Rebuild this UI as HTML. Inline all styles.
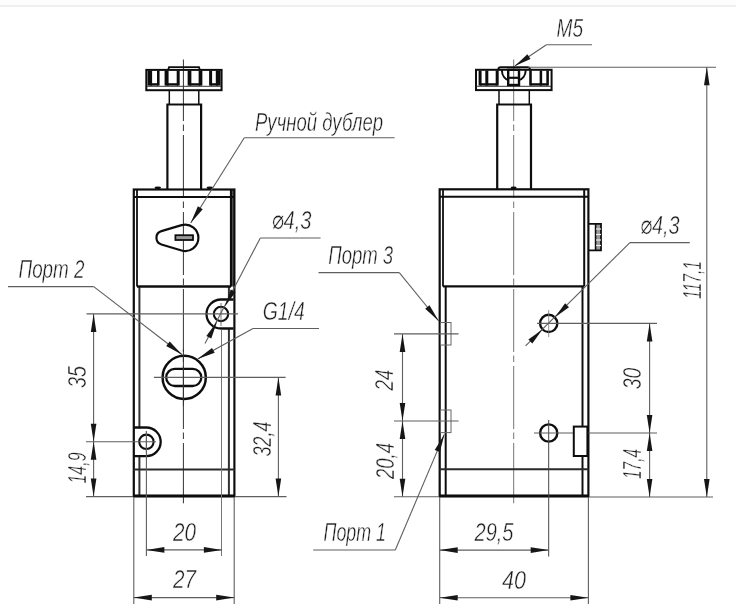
<!DOCTYPE html>
<html lang="ru"><head><meta charset="utf-8"><title>Чертёж</title>
<style>
html,body{margin:0;padding:0;background:#fff;}
svg{display:block;}
text{font-family:"Liberation Sans","DejaVu Sans",sans-serif;font-style:italic;fill:#1e1e1e;stroke:#fff;stroke-width:0.45px;paint-order:fill stroke;}
</style></head><body>
<svg width="736" height="604" viewBox="0 0 736 604">
<defs><filter id="b" x="0" y="0" width="100%" height="100%" filterUnits="userSpaceOnUse"><feGaussianBlur stdDeviation="0.7"/></filter></defs>
<rect width="736" height="604" fill="#fff"/>
<g filter="url(#b)">
<rect x="0" y="0" width="736" height="6" fill="#fdfdfd"/>
<rect x="0" y="5.5" width="736" height="1" fill="#e0e0e0"/>
<line x1="183.4" y1="59.5" x2="183.4" y2="503.3" stroke="#333" stroke-width="1.0" stroke-dasharray="63 3.5 6.5 4" stroke-dashoffset="1.5"/>
<rect x="146.3" y="69.9" width="75.3" height="20.3" fill="none" stroke="#111" stroke-width="2"/>
<polyline points="168.2,69.9 169.0,67.2 199.0,67.2 199.8,69.9" fill="none" stroke="#111" stroke-width="1.8" stroke-linejoin="miter"/>
<line x1="147.0" y1="86.3" x2="221.0" y2="86.3" stroke="#333" stroke-width="1.0" />
<line x1="149.8" y1="70.5" x2="149.8" y2="85.6" stroke="#111" stroke-width="4.6" />
<line x1="158.3" y1="70.5" x2="158.3" y2="85.6" stroke="#111" stroke-width="2.6" />
<line x1="166.6" y1="70.5" x2="166.6" y2="85.6" stroke="#111" stroke-width="4.0" />
<line x1="178.2" y1="70.5" x2="178.2" y2="85.6" stroke="#111" stroke-width="3.0" />
<line x1="189.5" y1="70.5" x2="189.5" y2="85.6" stroke="#111" stroke-width="3.7" />
<line x1="200.5" y1="70.5" x2="200.5" y2="85.6" stroke="#111" stroke-width="3.7" />
<line x1="210.6" y1="70.5" x2="210.6" y2="85.6" stroke="#111" stroke-width="3.0" />
<line x1="218.2" y1="70.5" x2="218.2" y2="85.6" stroke="#111" stroke-width="4.8" />
<line x1="149.8" y1="84.4" x2="158.3" y2="84.4" stroke="#111" stroke-width="2.4" />
<line x1="166.6" y1="84.4" x2="178.2" y2="84.4" stroke="#111" stroke-width="2.4" />
<line x1="189.5" y1="84.4" x2="200.5" y2="84.4" stroke="#111" stroke-width="2.4" />
<line x1="210.6" y1="84.4" x2="218.2" y2="84.4" stroke="#111" stroke-width="2.4" />
<line x1="169.3" y1="90.0" x2="169.3" y2="104.0" stroke="#111" stroke-width="1.5" />
<line x1="198.8" y1="90.0" x2="198.8" y2="104.0" stroke="#111" stroke-width="1.5" />
<polyline points="167.4,189.0 167.4,104.5 201.1,104.5 201.1,189.0" fill="none" stroke="#111" stroke-width="2.2" stroke-linejoin="miter"/>
<rect x="230.2" y="189.5" width="4.2" height="97.0" fill="#555"/>
<rect x="133.8" y="189.5" width="100.6" height="306.5" fill="none" stroke="#111" stroke-width="2.2"/>
<line x1="137.0" y1="189.5" x2="137.0" y2="286.5" stroke="#111" stroke-width="1.8" />
<line x1="231.0" y1="189.5" x2="231.0" y2="286.5" stroke="#111" stroke-width="2.2" />
<line x1="139.4" y1="286.5" x2="139.4" y2="496.0" stroke="#333" stroke-width="2.0" />
<line x1="228.9" y1="286.5" x2="228.9" y2="496.0" stroke="#333" stroke-width="2.0" />
<line x1="133.8" y1="197.0" x2="234.4" y2="197.0" stroke="#111" stroke-width="2" />
<line x1="137.0" y1="286.5" x2="231.0" y2="286.5" stroke="#111" stroke-width="2.4" />
<line x1="133.8" y1="469.6" x2="234.4" y2="469.6" stroke="#2a2a2a" stroke-width="2.0" />
<line x1="133.3" y1="496.0" x2="234.9" y2="496.0" stroke="#111" stroke-width="2.8" />
<ellipse cx="157.8" cy="187.8" rx="3.2" ry="1.3" fill="#111"/>
<ellipse cx="209.8" cy="187.8" rx="3.2" ry="1.3" fill="#111"/>
<path d="M161.4 231.1 L181.6 225.1 A13.2 13.2 0 1 1 181.6 250.5 L161.4 244.5 A7 7 0 0 1 161.4 231.1 Z" fill="none" stroke="#111" stroke-width="2.2" stroke-linejoin="round"/>
<rect x="175.4" y="235.2" width="17.6" height="4.8" fill="#999" stroke="#111" stroke-width="1.8"/>
<rect x="207" y="300" width="26" height="28" fill="#fff"/>
<path d="M233.5 299.5 L221 299.5 A14.5 14.5 0 0 0 221 328.5 L233.5 328.5" fill="none" stroke="#111" stroke-width="2.3" stroke-linejoin="round"/>
<circle cx="221.0" cy="314.0" r="7.2" fill="none" stroke="#111" stroke-width="2.1"/>
<line x1="221.5" y1="329.5" x2="221.5" y2="556.0" stroke="#777" stroke-width="1" />
<rect x="135" y="428.5" width="19" height="27" fill="#fff"/>
<path d="M133.8 427.5 L146.4 427.5 A14.3 14.3 0 0 1 146.4 456.1 L133.8 456.1" fill="none" stroke="#111" stroke-width="2.3" stroke-linejoin="round"/>
<circle cx="146.4" cy="441.8" r="7.2" fill="none" stroke="#111" stroke-width="2.1"/>
<circle cx="184.2" cy="377.4" r="21.6" fill="none" stroke="#111" stroke-width="2.5"/>
<path d="M174.8 368.8 H192.7 A8.6 8.6 0 0 1 192.7 386 H174.8 A8.6 8.6 0 0 1 174.8 368.8 Z" fill="none" stroke="#111" stroke-width="2.3" stroke-linejoin="round"/>
<line x1="86.5" y1="313.9" x2="238.0" y2="313.9" stroke="#5e5e5e" stroke-width="1.1" />
<line x1="86.0" y1="441.8" x2="156.0" y2="441.8" stroke="#5e5e5e" stroke-width="1.1" />
<line x1="86.0" y1="496.6" x2="133.0" y2="496.6" stroke="#5e5e5e" stroke-width="1.1" />
<line x1="235.0" y1="496.6" x2="286.5" y2="496.6" stroke="#5e5e5e" stroke-width="1.1" />
<line x1="154.0" y1="377.4" x2="285.6" y2="377.4" stroke="#5e5e5e" stroke-width="1.1" />
<line x1="183.4" y1="349.0" x2="183.4" y2="406.0" stroke="#333" stroke-width="1.0" />
<line x1="221.0" y1="303.0" x2="221.0" y2="326.0" stroke="#555" stroke-width="0.8" />
<line x1="146.4" y1="431.0" x2="146.4" y2="453.0" stroke="#555" stroke-width="0.8" />
<line x1="93.6" y1="313.9" x2="93.6" y2="496.6" stroke="#5e5e5e" stroke-width="1.1" />
<polygon points="93.6,313.9 96.4,331.9 90.8,331.9" fill="#151515"/>
<polygon points="93.6,441.8 90.8,423.8 96.4,423.8" fill="#151515"/>
<polygon points="93.6,441.8 96.4,459.8 90.8,459.8" fill="#151515"/>
<polygon points="93.6,496.6 90.8,478.6 96.4,478.6" fill="#151515"/>
<text x="0" y="0" transform="translate(85.5,377.0) rotate(-90)" text-anchor="middle" textLength="22.0" lengthAdjust="spacingAndGlyphs" font-size="26.5">35</text>
<text x="0" y="0" transform="translate(85.5,468.0) rotate(-90)" text-anchor="middle" textLength="31.0" lengthAdjust="spacingAndGlyphs" font-size="26.5">14,9</text>
<line x1="278.4" y1="377.4" x2="278.4" y2="496.6" stroke="#5e5e5e" stroke-width="1.1" />
<polygon points="278.4,377.4 281.2,395.4 275.6,395.4" fill="#151515"/>
<polygon points="278.4,496.6 275.6,478.6 281.2,478.6" fill="#151515"/>
<text x="0" y="0" transform="translate(270.5,439.0) rotate(-90)" text-anchor="middle" textLength="35.0" lengthAdjust="spacingAndGlyphs" font-size="26.5">32,4</text>
<line x1="146.4" y1="431.0" x2="146.4" y2="556.0" stroke="#5e5e5e" stroke-width="1.1" />
<line x1="133.8" y1="497.0" x2="133.8" y2="604.0" stroke="#5e5e5e" stroke-width="1.1" />
<line x1="234.2" y1="497.0" x2="234.2" y2="604.0" stroke="#5e5e5e" stroke-width="1.1" />
<line x1="146.4" y1="549.9" x2="221.9" y2="549.9" stroke="#5e5e5e" stroke-width="1.1" />
<polygon points="146.4,549.9 164.4,547.1 164.4,552.7" fill="#151515"/>
<polygon points="221.9,549.9 203.9,552.7 203.9,547.1" fill="#151515"/>
<line x1="133.8" y1="597.6" x2="234.2" y2="597.6" stroke="#5e5e5e" stroke-width="1.1" />
<polygon points="133.8,597.6 151.8,594.8 151.8,600.4" fill="#151515"/>
<polygon points="234.2,597.6 216.2,600.4 216.2,594.8" fill="#151515"/>
<text x="184.5" y="541.0" text-anchor="middle" textLength="23.0" lengthAdjust="spacingAndGlyphs" font-size="26.5">20</text>
<text x="184.5" y="588.4" text-anchor="middle" textLength="23.0" lengthAdjust="spacingAndGlyphs" font-size="26.5">27</text>
<line x1="8.0" y1="286.6" x2="93.7" y2="286.6" stroke="#5e5e5e" stroke-width="1.1" />
<line x1="93.7" y1="286.6" x2="182.2" y2="354.8" stroke="#5e5e5e" stroke-width="1.1" />
<polygon points="182.2,354.8 166.2,346.0 169.7,341.6" fill="#151515"/>
<text x="18.5" y="278.3" text-anchor="start" textLength="66.0" lengthAdjust="spacingAndGlyphs" font-size="26.5">Порт 2</text>
<line x1="244.3" y1="137.8" x2="394.6" y2="137.8" stroke="#5e5e5e" stroke-width="1.1" />
<line x1="244.3" y1="137.8" x2="190.7" y2="223.0" stroke="#5e5e5e" stroke-width="1.1" />
<polygon points="190.7,223.0 197.9,206.3 202.7,209.3" fill="#151515"/>
<text x="255.0" y="130.6" text-anchor="start" textLength="128.0" lengthAdjust="spacingAndGlyphs" font-size="26.5">Ручной дублер</text>
<line x1="260.3" y1="238.0" x2="320.6" y2="238.0" stroke="#5e5e5e" stroke-width="1.1" />
<line x1="260.3" y1="238.0" x2="205.0" y2="343.5" stroke="#5e5e5e" stroke-width="1.1" />
<polygon points="224.8,306.7 230.7,289.5 235.6,292.1" fill="#151515"/>
<polygon points="217.2,321.3 211.3,338.5 206.4,335.9" fill="#151515"/>
<text x="271.5" y="229.0" text-anchor="start" textLength="40.0" lengthAdjust="spacingAndGlyphs" font-size="26.5">⌀4,3</text>
<line x1="253.0" y1="328.5" x2="319.0" y2="328.5" stroke="#5e5e5e" stroke-width="1.1" />
<line x1="253.0" y1="328.5" x2="197.6" y2="359.0" stroke="#5e5e5e" stroke-width="1.1" />
<polygon points="197.6,359.0 212.0,347.9 214.7,352.8" fill="#151515"/>
<text x="262.8" y="319.6" text-anchor="start" textLength="42.0" lengthAdjust="spacingAndGlyphs" font-size="26.5">G1/4</text>
<line x1="513.7" y1="59.5" x2="513.7" y2="503.3" stroke="#666" stroke-width="0.9" stroke-dasharray="63 3.5 6.5 4" stroke-dashoffset="1.5"/>
<rect x="476.0" y="69.8" width="75.6" height="20.3" fill="none" stroke="#111" stroke-width="2"/>
<line x1="476.5" y1="86.3" x2="551.0" y2="86.3" stroke="#333" stroke-width="1.0" />
<line x1="480.1" y1="70.5" x2="480.1" y2="85.6" stroke="#111" stroke-width="3" />
<line x1="486.8" y1="70.5" x2="486.8" y2="85.6" stroke="#111" stroke-width="3" />
<line x1="497.2" y1="70.5" x2="497.2" y2="85.6" stroke="#111" stroke-width="3" />
<line x1="530.5" y1="70.5" x2="530.5" y2="85.6" stroke="#111" stroke-width="2.6" />
<line x1="540.9" y1="70.5" x2="540.9" y2="85.6" stroke="#111" stroke-width="2.5" />
<line x1="547.6" y1="70.5" x2="547.6" y2="85.6" stroke="#111" stroke-width="2.6" />
<line x1="480.1" y1="84.4" x2="497.2" y2="84.4" stroke="#111" stroke-width="2.4" />
<line x1="530.5" y1="84.4" x2="547.6" y2="84.4" stroke="#111" stroke-width="2.4" />
<path d="M498.4 70.5 L498.4 69 Q498.6 67.2 500.5 67.2 L527.8 67.2 Q529.7 67.2 529.9 69 L529.9 70.5" fill="none" stroke="#111" stroke-width="2" stroke-linejoin="round"/>
<path d="M501.8 69.8 C502 75.5 505 79.6 509 80.2 M518.4 80.2 C522.5 79.6 525.5 75.5 525.8 69.8" fill="none" stroke="#111" stroke-width="2" stroke-linejoin="round"/>
<rect x="508.2" y="69.8" width="10.8" height="15.2" fill="none" stroke="#111" stroke-width="2.4"/>
<line x1="508.2" y1="77.8" x2="519.0" y2="77.8" stroke="#111" stroke-width="2.2" />
<line x1="499.0" y1="90.0" x2="499.0" y2="104.0" stroke="#111" stroke-width="1.5" />
<line x1="529.3" y1="90.0" x2="529.3" y2="104.0" stroke="#111" stroke-width="1.5" />
<polyline points="497.2,189.0 497.2,104.5 531.0,104.5 531.0,189.0" fill="none" stroke="#111" stroke-width="2.2" stroke-linejoin="miter"/>
<rect x="439.7" y="189.3" width="148.7" height="306.7" fill="none" stroke="#111" stroke-width="2.2"/>
<line x1="443.0" y1="189.3" x2="443.0" y2="286.4" stroke="#111" stroke-width="1.8" />
<line x1="584.2" y1="189.3" x2="584.2" y2="286.4" stroke="#111" stroke-width="2.0" />
<line x1="445.7" y1="286.4" x2="445.7" y2="496.0" stroke="#111" stroke-width="2.0" />
<line x1="582.5" y1="286.4" x2="582.5" y2="496.0" stroke="#111" stroke-width="2.0" />
<line x1="439.7" y1="196.7" x2="588.4" y2="196.7" stroke="#111" stroke-width="2" />
<line x1="443.0" y1="286.4" x2="584.2" y2="286.4" stroke="#111" stroke-width="2.4" />
<line x1="439.7" y1="469.2" x2="588.4" y2="469.2" stroke="#2a2a2a" stroke-width="2.0" />
<line x1="439.2" y1="496.0" x2="588.9" y2="496.0" stroke="#111" stroke-width="2.8" />
<ellipse cx="513.6" cy="187.9" rx="3" ry="1.3" fill="#111"/>
<rect x="595.6" y="224" width="5.4" height="26.3" fill="#999"/>
<polyline points="588.4,223.9 601.0,223.9 601.0,250.3 588.4,250.3" fill="none" stroke="#111" stroke-width="1.8" stroke-linejoin="miter"/>
<line x1="595.6" y1="224.0" x2="595.6" y2="250.3" stroke="#111" stroke-width="1.6" />
<line x1="596.0" y1="229.0" x2="601.0" y2="229.0" stroke="#eee" stroke-width="1.2" />
<line x1="596.0" y1="234.5" x2="601.0" y2="234.5" stroke="#eee" stroke-width="1.2" />
<line x1="596.0" y1="240.0" x2="601.0" y2="240.0" stroke="#eee" stroke-width="1.2" />
<line x1="596.0" y1="245.5" x2="601.0" y2="245.5" stroke="#eee" stroke-width="1.2" />
<circle cx="548.7" cy="323.4" r="8.6" fill="none" stroke="#111" stroke-width="2.4"/>
<circle cx="548.7" cy="433.0" r="8.6" fill="none" stroke="#111" stroke-width="2.4"/>
<line x1="548.7" y1="310.0" x2="548.7" y2="337.0" stroke="#777" stroke-width="0.8" />
<line x1="537.0" y1="323.4" x2="657.0" y2="323.4" stroke="#5e5e5e" stroke-width="1.1" />
<line x1="548.7" y1="420.0" x2="548.7" y2="556.5" stroke="#444" stroke-width="1" />
<line x1="534.0" y1="433.0" x2="657.0" y2="433.0" stroke="#5e5e5e" stroke-width="1.1" />
<rect x="573.8" y="426.6" width="13.6" height="29.4" fill="#fff" stroke="#111" stroke-width="2"/>
<rect x="440.5" y="322.5" width="10.5" height="22.5" fill="none" stroke="#666" stroke-width="1"/>
<rect x="440.5" y="410.0" width="10.5" height="22.6" fill="none" stroke="#666" stroke-width="1"/>
<line x1="394.0" y1="333.9" x2="458.5" y2="333.9" stroke="#5e5e5e" stroke-width="1.1" />
<line x1="394.0" y1="421.0" x2="458.5" y2="421.0" stroke="#5e5e5e" stroke-width="1.1" />
<line x1="394.0" y1="496.8" x2="439.0" y2="496.8" stroke="#5e5e5e" stroke-width="1.1" />
<line x1="402.5" y1="333.9" x2="402.5" y2="496.8" stroke="#5e5e5e" stroke-width="1.1" />
<polygon points="402.5,333.9 405.3,351.9 399.7,351.9" fill="#151515"/>
<polygon points="402.5,421.0 399.7,403.0 405.3,403.0" fill="#151515"/>
<polygon points="402.5,421.0 405.3,439.0 399.7,439.0" fill="#151515"/>
<polygon points="402.5,496.8 399.7,478.8 405.3,478.8" fill="#151515"/>
<text x="0" y="0" transform="translate(393.0,380.0) rotate(-90)" text-anchor="middle" textLength="21.0" lengthAdjust="spacingAndGlyphs" font-size="26.5">24</text>
<text x="0" y="0" transform="translate(393.5,461.0) rotate(-90)" text-anchor="middle" textLength="36.0" lengthAdjust="spacingAndGlyphs" font-size="26.5">20,4</text>
<line x1="589.0" y1="497.0" x2="713.0" y2="497.0" stroke="#5e5e5e" stroke-width="1.1" />
<line x1="528.0" y1="67.3" x2="716.0" y2="67.3" stroke="#5e5e5e" stroke-width="1.1" />
<line x1="649.6" y1="323.4" x2="649.6" y2="497.0" stroke="#5e5e5e" stroke-width="1.1" />
<polygon points="649.6,323.4 652.4,341.4 646.8,341.4" fill="#151515"/>
<polygon points="649.6,433.0 646.8,415.0 652.4,415.0" fill="#151515"/>
<polygon points="649.6,433.0 652.4,451.0 646.8,451.0" fill="#151515"/>
<polygon points="649.6,497.0 646.8,479.0 652.4,479.0" fill="#151515"/>
<text x="0" y="0" transform="translate(640.5,378.5) rotate(-90)" text-anchor="middle" textLength="21.5" lengthAdjust="spacingAndGlyphs" font-size="26.5">30</text>
<text x="0" y="0" transform="translate(640.5,464.0) rotate(-90)" text-anchor="middle" textLength="30.0" lengthAdjust="spacingAndGlyphs" font-size="26.5">17,4</text>
<line x1="706.8" y1="67.3" x2="706.8" y2="497.0" stroke="#5e5e5e" stroke-width="1.1" />
<polygon points="706.8,67.3 709.6,85.3 704.0,85.3" fill="#151515"/>
<polygon points="706.8,497.0 704.0,479.0 709.6,479.0" fill="#151515"/>
<text x="0" y="0" transform="translate(701.0,280.0) rotate(-90)" text-anchor="middle" textLength="38.0" lengthAdjust="spacingAndGlyphs" font-size="26.5">117,1</text>
<line x1="439.7" y1="497.0" x2="439.7" y2="604.0" stroke="#5e5e5e" stroke-width="1.1" />
<line x1="588.4" y1="497.0" x2="588.4" y2="604.0" stroke="#5e5e5e" stroke-width="1.1" />
<line x1="439.7" y1="550.1" x2="548.7" y2="550.1" stroke="#5e5e5e" stroke-width="1.1" />
<polygon points="439.7,550.1 457.7,547.3 457.7,552.9" fill="#151515"/>
<polygon points="548.7,550.1 530.7,552.9 530.7,547.3" fill="#151515"/>
<line x1="439.7" y1="597.7" x2="588.4" y2="597.7" stroke="#5e5e5e" stroke-width="1.1" />
<polygon points="439.7,597.7 457.7,594.9 457.7,600.5" fill="#151515"/>
<polygon points="588.4,597.7 570.4,600.5 570.4,594.9" fill="#151515"/>
<text x="474.5" y="541.0" text-anchor="start" textLength="39.0" lengthAdjust="spacingAndGlyphs" font-size="26.5">29,5</text>
<text x="502.0" y="588.7" text-anchor="start" textLength="24.0" lengthAdjust="spacingAndGlyphs" font-size="26.5">40</text>
<line x1="546.4" y1="44.8" x2="592.0" y2="44.8" stroke="#5e5e5e" stroke-width="1.1" />
<line x1="546.4" y1="44.8" x2="514.8" y2="66.0" stroke="#5e5e5e" stroke-width="1.1" />
<polygon points="514.8,66.0 527.4,54.2 530.5,58.9" fill="#151515"/>
<text x="556.5" y="36.7" text-anchor="start" textLength="26.5" lengthAdjust="spacingAndGlyphs" font-size="26.5">M5</text>
<line x1="629.9" y1="242.6" x2="689.8" y2="242.6" stroke="#5e5e5e" stroke-width="1.1" />
<line x1="629.9" y1="242.6" x2="525.6" y2="345.9" stroke="#5e5e5e" stroke-width="1.1" />
<polygon points="555.0,317.2 565.1,303.3 569.0,307.2" fill="#151515"/>
<polygon points="542.4,329.6 532.3,343.5 528.4,339.6" fill="#151515"/>
<text x="640.0" y="233.7" text-anchor="start" textLength="39.5" lengthAdjust="spacingAndGlyphs" font-size="26.5">⌀4,3</text>
<line x1="318.5" y1="272.6" x2="399.3" y2="272.6" stroke="#5e5e5e" stroke-width="1.1" />
<line x1="399.3" y1="272.6" x2="438.7" y2="321.0" stroke="#5e5e5e" stroke-width="1.1" />
<polygon points="438.7,321.0 425.2,308.8 429.5,305.3" fill="#151515"/>
<text x="328.2" y="264.3" text-anchor="start" textLength="65.0" lengthAdjust="spacingAndGlyphs" font-size="26.5">Порт 3</text>
<line x1="313.2" y1="550.0" x2="395.3" y2="550.0" stroke="#5e5e5e" stroke-width="1.1" />
<line x1="395.3" y1="550.0" x2="444.3" y2="434.4" stroke="#5e5e5e" stroke-width="1.1" />
<polygon points="444.3,434.4 439.9,452.1 434.7,449.9" fill="#151515"/>
<text x="323.5" y="540.8" text-anchor="start" textLength="62.5" lengthAdjust="spacingAndGlyphs" font-size="26.5">Порт 1</text>
</g>
</svg>
</body></html>
